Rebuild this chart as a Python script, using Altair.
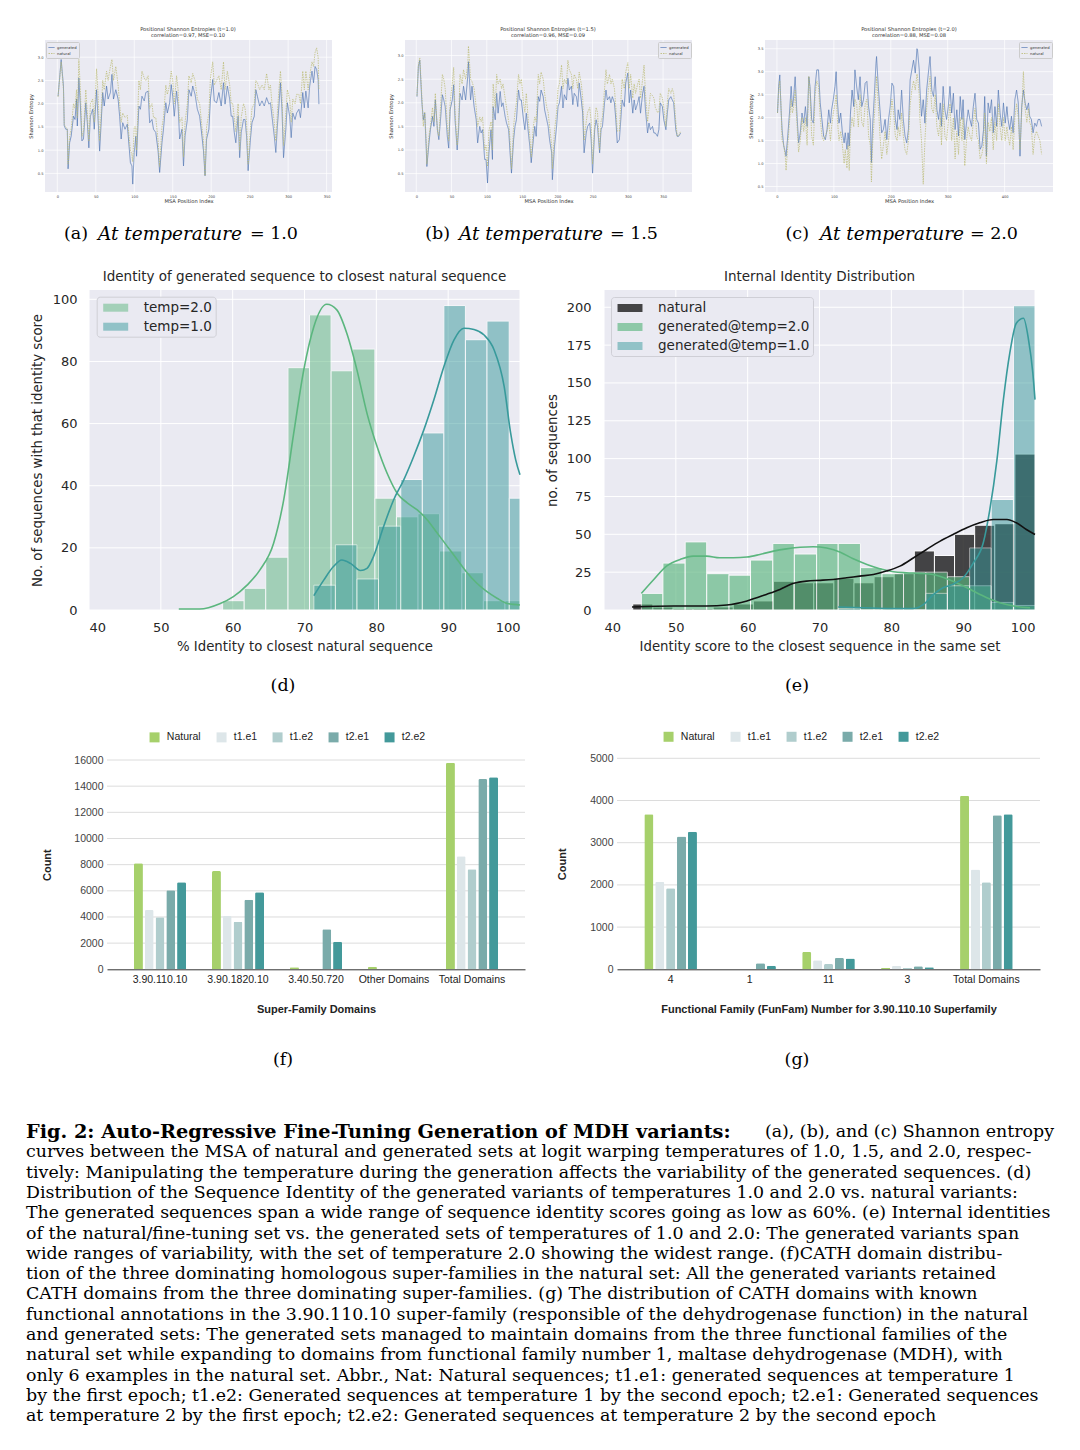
import altair as alt
import pandas as pd

# ---------------- fonts & colours ----------------
SANS = "DejaVu Sans"
ARIAL = "Liberation Sans"
SERIF = "DejaVu Serif"
BG = "#eaeaf2"
BLUE = "#4c72b0"
OLIVE = "#b9b96e"
GREEN = "#5bb67e"
TEAL = "#389a9b"
DARK = "#1a1a1a"
BAR_COLORS = ["#a6d06b", "#dde6e9", "#b0cdcd", "#7aabaa", "#43999a"]

# ---------------- (a) entropy, t=1.0 ----------------
A_POS = [1, 5, 8, 9, 11, 13, 14, 16, 18, 21,
         23, 25, 26, 28, 30, 32, 34, 37, 39, 41,
         43, 46, 48, 51, 53, 55, 57, 59, 61, 64,
         66, 69, 71, 73, 76, 79, 81, 83, 85, 88,
         91, 92, 95, 97, 98, 100, 102, 103, 106, 108,
         110, 113, 115, 118, 120, 123, 125, 128, 131, 133,
         136, 138, 141, 143, 146, 148, 150, 152, 155, 157,
         159, 162, 164, 166, 169, 171, 174, 176, 179, 182,
         185, 188, 190, 192, 194, 197, 199, 202, 204, 207,
         210, 213, 216, 218, 221, 224, 226, 228, 230, 232,
         235, 237, 239, 242, 244, 246, 248, 251, 253, 256,
         258, 260, 263, 266, 269, 272, 275, 277, 279, 282,
         284, 286, 288, 290, 292, 294, 297, 299, 302, 304,
         306, 309, 311, 314, 316, 319, 321, 323, 326, 328,
         331, 333, 335, 337, 339, 340]
A_GEN = [2.16, 2.95, 2.38, 1.52, 1.45, 1.45, 0.6, 1.16, 1.3, 1.73,
         1.66, 2.1, 1.52, 2.55, 1.95, 1.2, 1.24, 2.02, 1.59, 1.05,
         1.73, 1.88, 1.45, 2.3, 1.66, 0.98, 1.59, 2.24, 1.95, 2.38,
         2.1, 2.24, 2.63, 2.1, 2.3, 2.1, 1.73, 1.24, 1.59, 1.45,
         1.56, 1.34, 0.73, 0.66, 0.27, 0.95, 1.3, 0.87, 1.95, 1.88,
         2.16, 2.06, 2.24, 2.27, 1.59, 1.66, 1.45, 1.38, 0.98, 0.52,
         1.16, 1.45, 2.02, 1.8, 2.02, 2.41, 2.16, 1.73, 2.27, 1.95,
         1.24, 1.45, 0.66, 1.3, 1.66, 2.3, 2.16, 2.38, 2.2, 1.88,
         1.73, 1.3, 0.98, 0.45, 1.24, 1.45, 2.1, 2.52, 2.06, 2.02,
         2.24, 1.95, 2.45, 1.99, 2.38, 2.1, 1.73, 1.73, 1.38, 1.16,
         1.73, 0.84, 1.38, 1.66, 1.66, 1.3, 0.56, 1.24, 1.59, 1.73,
         2.3, 2.16, 1.95, 2.06, 1.95, 2.13, 1.99, 2.02, 1.73, 1.3,
         0.95, 1.52, 1.95, 2.45, 1.88, 0.84, 1.45, 2.02, 1.73, 1.27,
         1.8, 1.66, 1.8, 1.88, 1.7, 2.24, 1.91, 2.27, 1.91, 2.38,
         2.7, 2.45, 2.8, 2.74, 2.52, 1.99]
A_NAT = [2.15, 2.9, 2.3, 1.55, 1.5, 1.45, 0.7, 1.3, 1.45, 2.0,
         1.9, 2.3, 1.7, 2.95, 2.3, 1.3, 1.4, 2.3, 1.8, 1.2,
         2.0, 2.1, 1.6, 2.75, 2.2, 1.2, 1.8, 2.5, 2.3, 2.7,
         2.5, 2.8, 2.95, 2.5, 2.8, 2.4, 2.0, 1.6, 1.8, 1.7,
         1.75, 1.5, 1.0, 0.9, 0.75, 1.5, 1.5, 1.0, 2.5, 2.3,
         2.7, 2.55, 2.5, 2.6, 1.9, 2.0, 1.7, 1.7, 1.2, 0.65,
         1.5, 1.7, 2.4, 2.2, 2.4, 2.7, 2.5, 2.0, 2.6, 2.3,
         1.6, 1.7, 0.85, 1.6, 2.0, 2.6, 2.45, 2.65, 2.5, 2.1,
         2.0, 1.5, 1.2, 0.45, 1.5, 1.8, 2.55, 2.9, 2.4, 2.5,
         2.6, 2.3, 2.9, 2.3, 2.7, 2.4, 2.0, 2.0, 1.7, 1.4,
         2.0, 1.0, 1.7, 2.0, 1.9, 1.6, 0.7, 1.5, 1.9, 2.0,
         2.5, 2.45, 2.3, 2.4, 2.3, 2.65, 2.3, 2.4, 2.0, 1.6,
         1.2, 1.8, 2.3, 2.7, 2.2, 1.1, 1.8, 2.3, 2.1, 1.6,
         2.1, 2.0, 2.2, 2.2, 2.0, 2.7, 2.3, 2.7, 2.3, 2.6,
         2.9, 2.8, 3.1, 3.2, 3.0, 2.3]

# ---------------- (b) entropy, t=1.5 ----------------
B_POS = [1, 3, 5, 8, 10, 12, 14, 15, 18, 20,
         23, 25, 27, 30, 32, 34, 37, 39, 41, 44,
         46, 48, 51, 53, 55, 58, 60, 62, 65, 67,
         70, 73, 74, 77, 79, 82, 85, 87, 90, 92,
         94, 97, 99, 101, 103, 106, 108, 109, 112, 114,
         116, 119, 121, 123, 126, 128, 131, 133, 135, 138,
         140, 142, 145, 147, 149, 152, 154, 156, 159, 161,
         163, 166, 168, 170, 173, 175, 177, 180, 182, 185,
         187, 189, 192, 193, 196, 199, 201, 203, 206, 208,
         210, 213, 215, 217, 220, 222, 224, 227, 229, 231,
         234, 236, 238, 241, 243, 246, 248, 250, 253, 255,
         257, 260, 262, 264, 267, 269, 271, 274, 276, 278,
         281, 283, 285, 288, 290, 292, 295, 297, 300, 302,
         304, 307, 309, 311, 314, 316, 318, 321, 323, 325,
         328, 330, 332, 335, 337, 339, 342, 344, 346, 349,
         351, 354, 356, 358, 361, 363, 365, 368, 370, 372,
         375]
B_GEN = [2.13, 2.77, 2.9, 2.0, 1.64, 1.78, 1.08, 0.65, 1.15, 1.43,
         1.71, 1.5, 2.06, 1.43, 1.22, 1.57, 2.17, 2.06, 1.92, 1.29,
         1.04, 1.85, 2.06, 2.38, 1.64, 1.0, 1.43, 2.2, 2.06, 2.35,
         2.06, 2.56, 2.87, 2.06, 2.35, 1.92, 1.64, 1.15, 1.5, 1.36,
         1.43, 0.8, 0.8, 0.3, 0.94, 1.43, 0.8, 1.92, 1.64, 2.2,
         1.78, 2.24, 1.92, 2.0, 1.71, 1.57, 1.43, 0.94, 0.51, 1.22,
         1.5, 1.64, 2.27, 2.06, 2.06, 1.64, 1.43, 1.78, 1.36, 1.08,
         0.73, 1.22, 1.5, 1.29, 2.13, 2.03, 2.27, 2.13, 1.85, 1.64,
         1.5, 1.22, 0.94, 0.37, 1.08, 1.5, 1.92, 2.0, 2.35, 1.89,
         2.17, 2.06, 2.52, 2.27, 2.35, 1.96, 2.2, 2.13, 1.92, 2.42,
         2.06, 1.78, 0.94, 1.36, 1.5, 1.57, 1.22, 0.51, 1.43, 1.64,
         1.5, 0.94, 1.43, 1.5, 2.0, 2.27, 2.06, 2.13, 2.0, 2.13,
         2.0, 1.64, 1.15, 1.22, 1.64, 2.06, 1.92, 2.42, 2.63, 2.0,
         2.27, 1.78, 2.06, 1.85, 2.0, 2.13, 1.78, 2.2, 2.35, 1.85,
         1.36, 1.57, 1.43, 1.5, 1.36, 1.36, 1.29, 1.43, 2.0, 1.92,
         1.64, 1.43, 1.78, 2.06, 2.13, 2.06, 2.0, 1.43, 1.29, 1.29,
         1.36]
B_NAT = [2.15, 2.8, 2.95, 2.1, 1.5, 1.8, 1.2, 0.7, 1.3, 1.5,
         1.9, 1.6, 2.2, 1.4, 1.3, 1.8, 2.6, 2.5, 2.3, 1.5,
         1.2, 2.0, 2.4, 2.75, 1.8, 1.1, 1.6, 2.6, 2.4, 2.7,
         2.5, 2.8, 3.2, 2.5, 2.45, 2.3, 1.9, 1.5, 1.7, 1.6,
         1.7, 1.0, 1.1, 0.65, 1.4, 1.6, 1.0, 2.4, 1.9, 2.6,
         2.4, 2.5, 2.3, 2.4, 2.1, 1.9, 1.6, 1.2, 0.6, 1.5,
         1.8, 2.0, 2.6, 2.4, 2.5, 2.0, 1.8, 2.2, 1.6, 1.3,
         0.85, 1.5, 1.7, 1.6, 2.6, 2.4, 2.65, 2.5, 2.2, 1.9,
         1.8, 1.5, 1.1, 0.6, 1.4, 1.8, 2.3, 2.4, 2.8, 2.3,
         2.5, 2.4, 2.9, 2.7, 2.6, 2.3, 2.6, 2.5, 2.3, 2.65,
         2.4, 2.1, 1.2, 1.6, 1.8, 1.9, 1.6, 0.7, 1.6, 1.9,
         1.8, 1.0, 1.6, 1.7, 2.3, 2.7, 2.4, 2.6, 2.4, 2.5,
         2.3, 1.9, 1.4, 1.4, 2.0, 2.5, 2.3, 2.65, 2.85, 2.3,
         2.6, 2.1, 2.4, 2.2, 2.4, 2.5, 2.1, 2.5, 2.8, 2.2,
         1.6, 1.9, 2.2, 2.15, 2.1, 1.9, 1.8, 1.8, 2.2, 2.1,
         1.9, 1.5, 2.0, 2.3, 2.2, 2.3, 2.2, 1.6, 1.3, 1.3,
         1.4]

# ---------------- (c) entropy, t=2.0 ----------------
C_POS = [1, 3, 5, 7, 9, 12, 15, 16, 19, 22,
         25, 27, 29, 32, 35, 38, 41, 44, 47, 50,
         53, 56, 58, 61, 64, 67, 70, 73, 76, 79,
         82, 85, 88, 91, 94, 96, 99, 102, 104, 106,
         109, 112, 115, 118, 120, 123, 125, 127, 129, 132,
         135, 137, 140, 143, 146, 149, 152, 155, 158, 161,
         164, 166, 168, 171, 174, 175, 178, 181, 184, 187,
         190, 193, 196, 199, 202, 205, 208, 211, 213, 216,
         219, 222, 225, 228, 231, 234, 237, 240, 243, 246,
         247, 250, 251, 254, 257, 260, 263, 266, 269, 272,
         275, 278, 281, 284, 287, 289, 292, 295, 298, 301,
         304, 307, 310, 313, 316, 319, 322, 325, 327, 330,
         333, 336, 339, 342, 345, 348, 351, 354, 357, 360,
         363, 365, 368, 371, 374, 377, 380, 383, 386, 389,
         392, 395, 398, 401, 404, 406, 409, 412, 415, 418,
         421, 424, 427, 430, 433, 436, 439, 442, 444, 447,
         450, 453, 456, 459, 462, 465]
C_GEN = [2.1, 2.68, 2.93, 2.24, 1.74, 1.38, 1.23, 1.16, 1.6, 2.1,
         2.68, 2.24, 2.39, 2.89, 2.1, 1.45, 1.67, 2.1, 1.88, 2.24,
         1.81, 2.89, 2.68, 1.96, 1.88, 2.68, 3.04, 3.04, 2.32, 1.96,
         1.6, 1.52, 1.74, 2.17, 1.88, 2.17, 2.39, 2.68, 3.0, 2.39,
         1.88, 2.1, 1.67, 1.45, 1.67, 1.31, 1.67, 1.38, 2.06, 2.6,
         2.24, 3.04, 2.68, 2.39, 2.89, 2.24, 2.39, 2.75, 2.79, 2.24,
         1.96, 1.02, 1.81, 2.46, 3.18, 3.33, 2.68, 2.17, 1.67, 1.74,
         1.96, 1.52, 1.96, 2.24, 2.75, 2.68, 1.96, 1.74, 2.17, 1.96,
         2.6, 1.96, 1.6, 1.45, 1.74, 2.82, 3.04, 3.25, 2.97, 3.5,
         3.47, 3.04, 2.68, 2.03, 2.39, 1.88, 2.6, 2.97, 3.33, 2.6,
         2.46, 2.89, 2.17, 1.96, 2.32, 1.81, 2.68, 2.17, 1.96, 2.24,
         2.68, 2.1, 2.53, 1.74, 2.17, 1.6, 2.46, 1.96, 2.39, 1.52,
         1.88, 2.17, 1.96, 1.81, 2.24, 2.53, 1.96, 1.88, 1.31, 1.38,
         1.74, 2.46, 1.16, 2.32, 2.1, 2.39, 1.67, 2.24, 1.81, 2.6,
         2.1, 1.81, 2.32, 1.88, 2.24, 1.96, 1.74, 2.03, 1.67, 2.39,
         2.6, 2.32, 1.16, 2.24, 2.6, 2.32, 2.17, 2.32, 2.03, 1.96,
         1.67, 1.88, 1.81, 1.96, 1.96, 1.81]
C_NAT = [2.1, 2.6, 2.8, 2.3, 1.5, 1.4, 1.1, 0.85, 1.4, 1.9,
         2.4, 2.1, 2.2, 2.6, 1.9, 1.25, 1.5, 2.0, 1.7, 2.0,
         1.4, 2.9, 2.6, 1.6, 1.4, 2.5, 2.8, 2.7, 2.0, 1.6,
         1.5, 1.6, 1.7, 1.9, 1.5, 1.8, 2.1, 2.3, 2.5, 2.0,
         1.5, 1.7, 1.4, 1.0, 1.3, 0.9, 1.4, 0.85, 1.7, 2.0,
         1.8, 2.4, 2.3, 1.8, 2.5, 1.9, 1.8, 2.3, 2.4, 1.6,
         1.4, 0.6, 1.4, 2.0, 2.6, 2.9, 2.3, 1.6, 1.1, 1.4,
         1.7, 1.2, 1.5, 1.9, 2.4, 2.1, 1.6, 1.5, 1.8, 1.6,
         2.1, 1.6, 1.3, 1.2, 1.5, 2.3, 2.6, 2.8, 2.6, 2.95,
         2.9, 2.5, 2.0, 1.5, 0.55, 1.5, 2.2, 2.6, 2.9, 2.2,
         2.1, 2.5, 1.8, 1.6, 2.0, 1.4, 2.3, 1.6, 1.5, 1.9,
         2.3, 1.5, 2.0, 1.1, 1.7, 1.2, 2.0, 1.5, 2.0, 0.95,
         1.5, 1.8, 1.6, 1.5, 1.9, 2.2, 1.6, 1.5, 1.1, 1.2,
         1.4, 2.1, 1.0, 1.9, 1.7, 2.0, 1.3, 1.9, 1.5, 2.3,
         1.8, 1.5, 2.0, 1.5, 1.8, 1.6, 1.4, 1.8, 1.3, 2.0,
         2.3, 2.0, 1.3, 2.1, 3.0, 2.2, 1.9, 2.2, 1.9, 1.8,
         1.2, 1.6, 1.7, 1.6, 1.5, 1.2]

# ---------------- (d) identity to closest natural ----------------
D_T2_EDGES = [58.6, 61.6, 64.6, 67.7, 70.7, 73.7, 76.7, 79.8, 82.8, 85.8, 88.8, 91.9, 94.9, 97.9, 100.0]
D_T2_COUNTS = [3, 7, 17, 78, 95, 77, 84, 36, 30, 31, 19, 12, 3, 3]
D_T1_EDGES = [71.3, 74.3, 77.3, 80.3, 83.4, 86.4, 89.4, 92.4, 95.4, 98.5, 100.0]
D_T1_COUNTS = [8, 21, 10, 27, 42, 57, 98, 87, 93, 36]
D_T2_KDE_X = [52.5, 55.4, 58.2, 60.1, 62.0, 63.8, 65.7, 67.1, 68.5, 69.9, 71.3, 73.1, 74.5, 75.9, 77.3,
              78.7, 80.1, 81.5, 82.9, 84.3, 85.7, 87.1, 88.5, 89.9, 91.3, 92.7, 94.0, 95.4, 96.8, 98.2, 100.0]
D_T2_KDE_Y = [0.3, 0.3, 2, 4.3, 8, 12.9, 21.5, 35.4, 56.9, 77.3, 91.2, 98.4, 96.6, 89, 77.3,
              63.3, 52.6, 44, 37.6, 34.5, 32.2, 29, 24.7, 20.4, 16.1, 11.8, 8.6, 5.9, 3.8, 2.1, 1.6]
D_T1_KDE_X = [71.3, 72.7, 74.0, 75.2, 76.4, 77.8, 78.7, 79.6, 81.0, 82.4, 83.8, 85.2, 86.6, 88.0, 89.4,
              90.8, 92.2, 93.6, 95.0, 96.4, 97.8, 98.7, 99.4, 100.0]
D_T1_KDE_Y = [4.6, 9.7, 13.9, 16.1, 15, 12.7, 13.4, 17.2, 26.8, 35.4, 41.8, 49.4, 57.9, 67.6, 78.3,
              86.9, 90.7, 90.3, 88.5, 83.7, 71.9, 56.9, 48.3, 43.5]

# ---------------- (e) internal identity ----------------
E_NAT_EDGES = [44.0, 46.8, 49.6, 52.4, 55.2, 58.0, 60.8, 63.6, 66.4, 69.2, 72.0, 74.8, 77.6, 80.4, 83.2,
               86.0, 88.8, 91.6, 94.4, 97.2, 100.0]
E_NAT_COUNTS = [4, 2, 1, 1, 2, 4, 6, 19, 18, 18, 21, 18, 22, 24, 39, 36, 50, 56, 57, 103]
E_T2_EDGES = [45.2, 48.2, 51.3, 54.3, 57.4, 60.4, 63.5, 66.5, 69.6, 72.6, 75.7, 78.7, 81.7, 84.8, 87.8,
              90.9, 93.9, 97.0, 100.0]
E_T2_COUNTS = [11, 31, 45, 24, 23, 33, 44, 37, 44, 44, 28, 24, 25, 25, 22, 16, 5, 3]
E_T1_EDGES = [72.6, 75.7, 78.7, 81.7, 84.8, 87.8, 90.9, 93.9, 97.0, 100.0]
E_T1_COUNTS = [1, 0, 0, 0, 11, 16, 41, 73, 201]
E_NAT_KDE_X = [43.9, 49.7, 54.3, 57.1, 59.9, 62.6, 64.5, 66.4, 68.2, 70.1, 71.9, 73.8, 75.6, 77.5,
               79.3, 81.2, 83.1, 84.9, 86.8, 88.6, 90.5, 92.3, 94.2, 96.1, 97.4, 98.8, 100.0]
E_NAT_KDE_Y = [2, 2.6, 2.6, 3.3, 6, 10.3, 13.6, 17.6, 19.1, 19.6, 20.2, 21.3, 22.4, 23.5,
               25.7, 29, 34.5, 40, 45.5, 49.9, 54.3, 57.6, 59.8, 59.8, 57.6, 53.2, 49.9]
E_T2_KDE_X = [45.2, 46.9, 48.7, 50.6, 52.4, 54.3, 56.1, 58.0, 59.9, 61.7, 63.6, 65.4, 67.3, 69.1, 71.0,
              72.9, 74.7, 76.6, 78.4, 80.3, 82.1, 84.0, 85.8, 87.7, 89.6, 91.4, 93.3, 95.1, 97.0, 99.3]
E_T2_KDE_Y = [11, 20, 29, 33.4, 35.6, 35.6, 34.5, 34.5, 35, 36.7, 38.9, 40.4, 41.5, 41.8, 40.9,
              38.2, 33.8, 30.1, 27.3, 25.3, 24.6, 24.2, 23.5, 20.7, 16.9, 12.5, 8.1, 4.8, 2.6, 1.5]
E_T1_KDE_X = [72.6, 76.0, 80.0, 83.0, 84.5, 85.8, 87.2, 88.6, 90.0, 91.4, 92.8, 93.7, 94.7, 95.6, 96.5,
              97.4, 98.4, 99.1, 99.7, 100.0]
E_T1_KDE_Y = [2, 1.5, 1, 1, 3.7, 10, 14.7, 17, 21.3, 31, 44.4, 66, 99, 139, 170, 189.5, 192.7, 178.5, 156.5, 139]

# ---------------- (f) CATH super-families ----------------
SERIES = ["Natural", "t1.e1", "t1.e2", "t2.e1", "t2.e2"]
F_CATS = ["3.90.110.10", "3.90.1820.10", "3.40.50.720", "Other Domains", "Total Domains"]
F_NATURAL = [8100, 7515, 150, 200, 15796]
F_T1E1 = [4535, 4076, 0, 0, 8637]
F_T1E2 = [3975, 3643, 0, 0, 7643]
F_T2E1 = [6040, 5325, 3057, 0, 14548]
F_T2E2 = [6650, 5885, 2115, 0, 14675]

# ---------------- (g) FunFam ----------------
G_CATS = ["4", "1", "11", "3", "Total Domains"]
G_NATURAL = [3673, 0, 411, 32, 4115]
G_T1E1 = [2077, 0, 213, 87, 2362]
G_T1E2 = [1919, 0, 126, 32, 2062]
G_T2E1 = [3144, 142, 269, 71, 3649]
G_T2E2 = [3262, 87, 253, 47, 3673]

# ---------------- caption text ----------------
SUB_LABELS = ["(a)", "(b)", "(c)"]
SUB_TEMP_WORDS = "At temperature"
SUB_TEMPS = ["= 1.0", "= 1.5", "= 2.0"]
LOWER_LABELS = ["(d)", "(e)", "(f)", "(g)"]
CAPTION_HEAD_BOLD = "Fig. 2: Auto-Regressive Fine-Tuning Generation of MDH variants:"
CAPTION_HEAD_REST = "(a), (b), and (c) Shannon entropy"
CAPTION_LINES = [
    "curves between the MSA of natural and generated sets at logit warping temperatures of 1.0, 1.5, and 2.0, respec-",
    "tively: Manipulating the temperature during the generation affects the variability of the generated sequences. (d)",
    "Distribution of the Sequence Identity of the generated variants of temperatures 1.0 and 2.0 vs. natural variants:",
    "The generated sequences span a wide range of sequence identity scores going as low as 60%. (e) Internal identities",
    "of the natural/fine-tuning set vs. the generated sets of temperatures of 1.0 and 2.0: The generated variants span",
    "wide ranges of variability, with the set of temperature 2.0 showing the widest range. (f)CATH domain distribu-",
    "tion of the three dominating homologous super-families in the natural set: All the generated variants retained",
    "CATH domains from the three dominating super-families. (g) The distribution of CATH domains with known",
    "functional annotations in the 3.90.110.10 super-family (responsible of the dehydrogenase function) in the natural",
    "and generated sets: The generated sets managed to maintain domains from the three functional families of the",
    "natural set while expanding to domains from functional family number 1, maltase dehydrogenase (MDH), with",
    "only 6 examples in the natural set. Abbr., Nat: Natural sequences; t1.e1: generated sequences at temperature 1",
    "by the first epoch; t1.e2: Generated sequences at temperature 1 by the second epoch; t2.e1: Generated sequences",
    "at temperature 2 by the first epoch; t2.e2: Generated sequences at temperature 2 by the second epoch",
]

# ---------------- page layout (page pixel boxes: left, right, top, bottom) ----------------
W_TOTAL, H_TOTAL, M = 1064, 1434, 8
BOX_A = (45, 332, 40, 192)
BOX_B = (405, 692, 40, 192)
BOX_C = (765, 1053, 40, 192)
BOX_D = (89, 520, 290, 610)
BOX_E = (604, 1035, 290, 610)
BOX_F = (107, 525, 760, 969.3)
BOX_G = (617, 1040, 758.3, 969.3)


def X(p):
    return p - M


def Y(p):
    return p - M


# =====================================================================
def text_layer(text, x, y, size, font, align="center", weight="normal", style="normal", color="black"):
    return alt.Chart(alt.Data(values=[{"t": text}])).mark_text(
        align=align, baseline="middle", font=font, fontSize=size, fontWeight=weight,
        fontStyle=style, color=color).encode(x=alt.value(x), y=alt.value(y), text="t:N")


def frame_layer(xdom, ydom, xsc, ysc, xaxis, yaxis, color):
    return alt.Chart(pd.DataFrame({"a": [xdom[0]], "b": [xdom[1]], "c": [ydom[0]], "d": [ydom[1]]})).mark_rect(
        color=color).encode(
        x=alt.X("a:Q", scale=xsc, axis=xaxis), x2="b:Q",
        y=alt.Y("c:Q", scale=ysc, axis=yaxis), y2="d:Q")


def grid_layers(xdom, ydom, xticks, yticks, width):
    vg = alt.Chart(pd.DataFrame({"a": xticks})).mark_rule(color="white", strokeWidth=width).encode(
        x="a:Q", y=alt.datum(ydom[0]), y2=alt.datum(ydom[1]))
    hg = alt.Chart(pd.DataFrame({"c": yticks})).mark_rule(color="white", strokeWidth=width).encode(
        y="c:Q", x=alt.datum(xdom[0]), x2=alt.datum(xdom[1]))
    return [vg, hg]


def entropy_panel(pos, gen, nat, xdom, ydom, xticks, yticks, box, legend_x):
    x0, x1, y0, y1 = box
    xsc = alt.Scale(domain=xdom, range=[X(x0), X(x1)], nice=False, zero=False)
    ysc = alt.Scale(domain=ydom, range=[Y(y1), Y(y0)], nice=False, zero=False)
    ax = dict(grid=False, domain=False, ticks=False, labelFont=SANS, labelFontSize=3.6,
              labelColor="#444444", titleFont=SANS, titleFontSize=5.2, titleFontWeight="normal",
              titleColor="#333333")
    xaxis = alt.Axis(orient="bottom", offset=Y(y1) - H_TOTAL, values=xticks, format="d",
                     title="MSA Position Index", labelPadding=2, titlePadding=1, **ax)
    yaxis = alt.Axis(orient="left", offset=-X(x0), values=yticks, format=".1f",
                     title="Shannon Entropy", labelPadding=2, titlePadding=4, **ax)
    n = len(pos)
    df = pd.DataFrame({"pos": list(pos) + list(pos), "val": list(gen) + list(nat),
                       "series": ["generated"] * n + ["natural"] * n})
    legend = alt.Legend(title=None, orient="none", legendX=legend_x, legendY=Y(42), padding=2,
                        fillColor=BG, strokeColor="#cccccc", cornerRadius=1,
                        labelFont=SANS, labelFontSize=3.8, labelColor="#333333",
                        symbolType="stroke", symbolSize=36, symbolStrokeWidth=0.8,
                        rowPadding=0, labelOffset=2)
    dom = ["generated", "natural"]
    lines = alt.Chart(df).mark_line(strokeWidth=0.7).encode(
        x="pos:Q", y="val:Q",
        color=alt.Color("series:N", scale=alt.Scale(domain=dom, range=[BLUE, OLIVE]), legend=legend),
        strokeDash=alt.StrokeDash("series:N", scale=alt.Scale(domain=dom, range=[[1, 0], [1.5, 1]]),
                                  legend=legend))
    return alt.layer(frame_layer(xdom, ydom, xsc, ysc, xaxis, yaxis, BG),
                     *grid_layers(xdom, ydom, xticks, yticks, 0.7), lines)


def hist_df(name, edges, counts):
    return pd.DataFrame({"series": name, "x0": edges[:-1], "x1": edges[1:], "count": counts})


def kde_df(xs, ys):
    return pd.DataFrame({"x": xs, "y": ys})


def hist_panel(bars, kdes, dom, colors, opac, ymax, yticks, box, xtitle, ytitle, ylab_pad, ytitle_pad,
               legend_xy):
    x0, x1, y0, y1 = box
    xdom, ydom = [40, 100], [0, ymax]
    xticks = [40, 50, 60, 70, 80, 90, 100]
    xsc = alt.Scale(domain=xdom, range=[X(x0), X(x1)], nice=False, zero=False)
    ysc = alt.Scale(domain=ydom, range=[Y(y1), Y(y0)], nice=False, zero=False)
    ax = dict(grid=False, domain=False, ticks=False, labelFont=SANS, labelFontSize=13,
              labelColor="#262626", titleFont=SANS, titleFontSize=13.3, titleFontWeight="normal",
              titleColor="#262626")
    xaxis = alt.Axis(orient="bottom", offset=Y(y1) - H_TOTAL, values=xticks, title=xtitle,
                     labelPadding=11, titlePadding=5, **ax)
    yaxis = alt.Axis(orient="left", offset=-X(x0), values=yticks, title=ytitle,
                     labelPadding=ylab_pad, titlePadding=ytitle_pad, **ax)
    lg = alt.Legend(title=None, orient="none", legendX=legend_xy[0], legendY=legend_xy[1], padding=3,
                    fillColor=BG, strokeColor="#cfcfd6", cornerRadius=3,
                    labelFont=SANS, labelFontSize=13.5, labelColor="#262626",
                    symbolType="M-1.56,-0.5H1.56V0.5H-1.56Z", symbolSize=256, symbolOffset=8,
                    symbolStrokeWidth=0, labelOffset=20, rowPadding=4)
    bar_layer = alt.Chart(bars).mark_bar(stroke="white", strokeWidth=1).encode(
        x="x0:Q", x2="x1:Q", y="count:Q", y2=alt.datum(0),
        color=alt.Color("series:N", scale=alt.Scale(domain=dom, range=colors), legend=lg),
        opacity=alt.Opacity("series:N", scale=alt.Scale(domain=dom, range=opac), legend=lg))
    layers = [frame_layer(xdom, ydom, xsc, ysc, xaxis, yaxis, BG),
              *grid_layers(xdom, ydom, xticks, yticks, 1), bar_layer]
    for df, col in kdes:
        layers.append(alt.Chart(df).mark_line(color=col, strokeWidth=1.6, interpolate="monotone")
                      .encode(x="x:Q", y="y:Q"))
    return alt.layer(*layers)


def bar_panel(cats, series_vals, ymax, yticks, box, xtitle, legend_xy, ytitle_pad):
    x0, x1, y0, y1 = box
    rows = []
    for s, vals in zip(SERIES, series_vals):
        for c, v in zip(cats, vals):
            rows.append({"category": c, "series": s, "value": v})
    df = pd.DataFrame(rows)
    ysc = alt.Scale(domain=[0, ymax], range=[Y(y1), Y(y0)], nice=False, zero=False)
    grid = alt.Chart(pd.DataFrame({"v": yticks[1:]})).mark_rule(color="#dcdcdc", strokeWidth=1).encode(
        y=alt.Y("v:Q", scale=ysc,
                axis=alt.Axis(orient="left", offset=-X(x0), values=yticks, format="d", title="Count",
                              grid=False, domain=False, ticks=False, labelFont=ARIAL,
                              labelFontSize=10.5, labelColor="#444444", labelPadding=4,
                              titleFont=ARIAL, titleFontSize=11, titleFontWeight="bold",
                              titleColor="#222222", titlePadding=ytitle_pad)),
        x=alt.XDatum(0, type="quantitative",
                     scale=alt.Scale(domain=[0, 1], range=[X(x0), X(x1)], nice=False, zero=False),
                     axis=None),
        x2=alt.X2Datum(1))
    bars = alt.Chart(df).mark_bar(cornerRadiusTopLeft=1.5, cornerRadiusTopRight=1.5).encode(
        x=alt.X("category:N", sort=cats,
                scale=alt.Scale(domain=cats, range=[X(x0), X(x1)], paddingInner=0.333, paddingOuter=0.346),
                axis=alt.Axis(orient="bottom", offset=Y(y1) - H_TOTAL, title=xtitle, labelAngle=0,
                              labelFont=ARIAL, labelFontSize=10.5, labelColor="#222222",
                              labelPadding=5, domainColor="#333333", domainWidth=1, ticks=False,
                              grid=False, labelOverlap=False, labelLimit=300, titleFont=ARIAL,
                              titleFontSize=11, titleFontWeight="bold", titleColor="#222222",
                              titlePadding=19)),
        xOffset=alt.XOffset("series:N", sort=SERIES, scale=alt.Scale(paddingInner=0.17, paddingOuter=0)),
        y="value:Q",
        color=alt.Color("series:N", sort=SERIES, scale=alt.Scale(domain=SERIES, range=BAR_COLORS),
                        legend=alt.Legend(title=None, orient="none", legendX=legend_xy[0],
                                          legendY=legend_xy[1], direction="horizontal",
                                          symbolType="square", symbolSize=100, symbolStrokeWidth=0,
                                          labelFont=ARIAL, labelFontSize=10.5, labelColor="#222222",
                                          columnPadding=15, labelOffset=7, padding=0)))
    return alt.layer(grid, bars).resolve_scale(x="independent")


# ---------------- panels ----------------
panel_a = entropy_panel(A_POS, A_GEN, A_NAT, [-16, 357], [0.1, 3.37], [0, 50, 100, 150, 200, 250, 300, 350],
                        [0.5, 1.0, 1.5, 2.0, 2.5, 3.0], BOX_A, X(46))
panel_b = entropy_panel(B_POS, B_GEN, B_NAT, [-16, 391], [0.11, 3.33], [0, 50, 100, 150, 200, 250, 300, 350],
                        [0.5, 1.0, 1.5, 2.0, 2.5, 3.0], BOX_B, X(658))
panel_c = entropy_panel(C_POS, C_GEN, C_NAT, [-21, 485], [0.38, 3.69], [0, 100, 200, 300, 400],
                        [0.5, 1.0, 1.5, 2.0, 2.5, 3.0, 3.5], BOX_C, X(1019))

d_bars = pd.concat([hist_df("temp=2.0", D_T2_EDGES, D_T2_COUNTS),
                    hist_df("temp=1.0", D_T1_EDGES, D_T1_COUNTS)], ignore_index=True)
panel_d = hist_panel(d_bars, [(kde_df(D_T2_KDE_X, D_T2_KDE_Y), GREEN), (kde_df(D_T1_KDE_X, D_T1_KDE_Y), TEAL)],
                     ["temp=2.0", "temp=1.0"], [GREEN, TEAL], [0.5, 0.5], 103,
                     [0, 20, 40, 60, 80, 100], BOX_D,
                     "% Identity to closest natural sequence",
                     "No. of sequences with that identity score", 12, 8, (X(96.7), Y(296.7)))

e_bars = pd.concat([hist_df("natural", E_NAT_EDGES, E_NAT_COUNTS),
                    hist_df("generated@temp=2.0", E_T2_EDGES, E_T2_COUNTS),
                    hist_df("generated@temp=1.0", E_T1_EDGES, E_T1_COUNTS)], ignore_index=True)
panel_e = hist_panel(e_bars, [(kde_df(E_T2_KDE_X, E_T2_KDE_Y), GREEN), (kde_df(E_T1_KDE_X, E_T1_KDE_Y), TEAL),
                              (kde_df(E_NAT_KDE_X, E_NAT_KDE_Y), "#111111")],
                     ["natural", "generated@temp=2.0", "generated@temp=1.0"], [DARK, GREEN, TEAL],
                     [0.8, 0.5, 0.5], 211.4, [0, 25, 50, 75, 100, 125, 150, 175, 200], BOX_E,
                     "Identity score to the closest sequence in the same set",
                     "no. of sequences", 13, 7, (X(611), Y(297)))

panel_f = bar_panel(F_CATS, [F_NATURAL, F_T1E1, F_T1E2, F_T2E1, F_T2E2], 16000,
                    [0, 2000, 4000, 6000, 8000, 10000, 12000, 14000, 16000], BOX_F,
                    "Super-Family Domains", (X(149.3), Y(732)), 21)
panel_g = bar_panel(G_CATS, [G_NATURAL, G_T1E1, G_T1E2, G_T2E1, G_T2E2], 5000,
                    [0, 1000, 2000, 3000, 4000, 5000], BOX_G,
                    "Functional Family (FunFam) Number for 3.90.110.10 Superfamily", (X(663.3), Y(731.4)), 22)

# ---------------- titles & sub-captions ----------------
texts = []
for (l1, l2), cx in zip([("Positional Shannon Entropies (t=1.0)", "correlation=0.97,  MSE=0.10"),
                         ("Positional Shannon Entropies (t=1.5)", "correlation=0.96,  MSE=0.09"),
                         ("Positional Shannon Entropies (t=2.0)", "correlation=0.88,  MSE=0.08")],
                        [188, 548, 909]):
    texts.append(text_layer(l1, X(cx), Y(29.3), 5.2, SANS, color="#333333"))
    texts.append(text_layer(l2, X(cx), Y(34.7), 5.2, SANS, color="#333333"))
texts.append(text_layer("Identity of generated sequence to closest natural sequence", X(304.5), Y(277),
                        13.5, SANS, color="#262626"))
texts.append(text_layer("Internal Identity Distribution", X(819.5), Y(277), 13.5, SANS, color="#262626"))

for lab, tmp, lx, cx, rx in zip(SUB_LABELS, SUB_TEMPS, [88, 450, 809], [170, 531, 892], [298, 658, 1018]):
    texts.append(text_layer(lab, X(lx), Y(234), 17.5, SERIF, align="right"))
    texts.append(text_layer(SUB_TEMP_WORDS, X(cx), Y(234), 18.5, SERIF, style="italic"))
    texts.append(text_layer(tmp, X(rx), Y(234), 17.5, SERIF, align="right"))
texts.append(text_layer(LOWER_LABELS[0], X(283), Y(686), 17.5, SERIF))
texts.append(text_layer(LOWER_LABELS[1], X(797), Y(686), 17.5, SERIF))
texts.append(text_layer(LOWER_LABELS[2], X(283), Y(1060), 17.5, SERIF))
texts.append(text_layer(LOWER_LABELS[3], X(797), Y(1060), 17.5, SERIF))

# ---------------- figure caption ----------------
CAP_SIZE = 17.4
line_scale = alt.Scale(domain=[0, 14], range=[Y(1132), Y(1132) + 14 * 20.3], nice=False, zero=False)
yl = alt.Y("line:Q", scale=line_scale, axis=None)
cap_df = pd.DataFrame({"line": list(range(1, 15)), "text": CAPTION_LINES})
cap_layers = [
    alt.Chart(alt.Data(values=[{"line": 0, "text": CAPTION_HEAD_BOLD}])).mark_text(
        align="left", baseline="middle", font=SERIF, fontSize=19.3, fontWeight="bold", color="black"
    ).encode(x=alt.value(X(26)), y=yl, text="text:N"),
    alt.Chart(alt.Data(values=[{"line": 0, "text": CAPTION_HEAD_REST}])).mark_text(
        align="right", baseline="middle", font=SERIF, fontSize=CAP_SIZE, color="black"
    ).encode(x=alt.value(X(1054)), y=yl, text="text:N"),
    alt.Chart(cap_df).mark_text(align="left", baseline="middle", font=SERIF, fontSize=CAP_SIZE,
                                color="black").encode(x=alt.value(X(26)), y=yl, text="text:N"),
]
caption = alt.layer(*cap_layers)

chart = alt.layer(panel_a, panel_b, panel_c, panel_d, panel_e, panel_f, panel_g, caption, *texts).resolve_scale(
    x="independent", y="independent", color="independent", opacity="independent",
    strokeDash="independent", xOffset="independent"
).properties(
    width=W_TOTAL, height=H_TOTAL, autosize=alt.AutoSizeParams(type="none"), padding=0,
    background="white"
).configure_view(strokeWidth=0)

chart.save("out.html", embed_options={"renderer": "svg", "actions": False})
